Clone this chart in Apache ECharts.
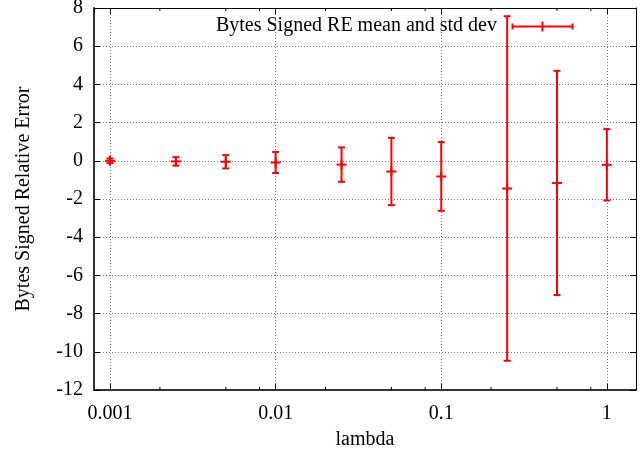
<!DOCTYPE html>
<html>
<head>
<meta charset="utf-8">
<script src="https://cdn.jsdelivr.net/npm/echarts@6/dist/echarts.min.js"></script>
<style>
html,body{margin:0;padding:0;background:#fff;}
#chart{width:642px;height:454px;}
</style>
</head>
<body>
<div id="chart"></div>
<script>
// ---- data ----
const lambdas = [0.001, 0.0025, 0.005, 0.01, 0.025, 0.05, 0.1, 0.25, 0.5, 1];
const means   = [0.0, -0.03, -0.05, -0.09, -0.2, -0.56, -0.82, -1.45, -1.16, -0.21];
const stds    = [0.12, 0.22, 0.35, 0.55, 0.9, 1.76, 1.8, 9.02, 5.87, 1.87];
const xTickLabels = ['0.001', '0.01', '0.1', '1'];
const minorXTicks = [0.002, 0.005, 0.008, 0.02, 0.05, 0.08, 0.2, 0.5, 0.8];
const seriesName = 'Bytes Signed RE mean and std dev';
const xTitle = 'lambda';
const yTitle = 'Bytes Signed Relative Error';

const FONT = 'Liberation Serif';
const RED = '#ff0000';

const errData = lambdas.map((x, i) => [x, means[i], stds[i]]);

const chart = echarts.init(document.getElementById('chart'), null, {renderer: 'canvas'});

function fmtX(v) {
  const s = String(Number(Number(v).toPrecision(6)));
  return xTickLabels.indexOf(s) >= 0 ? s : '';
}

const gridLine = {show: true, lineStyle: {color: '#777', width: 1, type: [1, 2]}};

chart.setOption({
  animation: false,
  backgroundColor: '#fff',
  grid: {left: 94, right: 6, top: 8, bottom: 64, containLabel: false, outerBoundsMode: 'none'},
  xAxis: [{
    type: 'log', logBase: 10, min: 0.0008, max: 1.5, position: 'bottom',
    name: xTitle, nameLocation: 'middle', nameGap: 40,
    nameTextStyle: {fontFamily: FONT, fontSize: 20, color: '#000'},
    axisLine: {show: true, onZero: false, lineStyle: {color: '#333', width: 2}},
    axisTick: {show: true, inside: true, length: 6, lineStyle: {color: '#000'}},
    axisLabel: {show: true, formatter: fmtX, fontFamily: FONT, fontSize: 20, color: '#000', margin: 14, showMinLabel: false, showMaxLabel: false},
    splitLine: gridLine,
    minorTick: {show: false}
  }, {
    type: 'log', logBase: 10, min: 0.0008, max: 1.5, position: 'top',
    axisLine: {show: true, onZero: false, lineStyle: {color: '#000', width: 1}},
    axisTick: {show: true, inside: true, length: 6, lineStyle: {color: '#000'}},
    axisLabel: {show: false},
    splitLine: {show: false}
  }],
  yAxis: [{
    type: 'value', min: -12, max: 8, interval: 2, position: 'left',
    name: yTitle, nameLocation: 'middle', nameGap: 60, nameRotate: 90,
    nameTextStyle: {fontFamily: FONT, fontSize: 20, color: '#000'},
    axisLine: {show: true, onZero: false, lineStyle: {color: '#333', width: 2}},
    axisTick: {show: true, inside: true, length: 6, lineStyle: {color: '#000'}},
    axisLabel: {fontFamily: FONT, fontSize: 20, color: '#000', margin: 11},
    splitLine: gridLine
  }, {
    type: 'value', min: -12, max: 8, interval: 2, position: 'right',
    axisLine: {show: true, onZero: false, lineStyle: {color: '#000', width: 1}},
    axisTick: {show: true, inside: true, length: 6, lineStyle: {color: '#000'}},
    axisLabel: {show: false},
    splitLine: {show: false}
  }],
  series: [{
    type: 'custom', name: 'minorTicks', silent: true, xAxisIndex: 0, yAxisIndex: 0,
    data: minorXTicks.map(v => [v]),
    encode: {x: 0},
    renderItem: function (params, api) {
      const v = api.value(0);
      const b = api.coord([v, -12]);
      const t = api.coord([v, 8]);
      const st = {stroke: '#000', lineWidth: 1};
      return {type: 'group', children: [
        {type: 'line', shape: {x1: b[0], y1: b[1], x2: b[0], y2: b[1] - 3}, style: st},
        {type: 'line', shape: {x1: t[0], y1: t[1], x2: t[0], y2: t[1] + 3}, style: st}
      ]};
    }
  }, {
    type: 'custom', name: seriesName, xAxisIndex: 0, yAxisIndex: 0,
    data: errData,
    encode: {x: 0, y: 1},
    renderItem: function (params, api) {
      const x = api.value(0), m = api.value(1), s = api.value(2);
      const top = api.coord([x, m + s]);
      const bot = api.coord([x, m - s]);
      const mid = api.coord([x, m]);
      const st = {stroke: RED, lineWidth: 2};
      const cw = 3.5, pw = 5;
      return {type: 'group', children: [
        {type: 'line', shape: {x1: top[0], y1: top[1], x2: bot[0], y2: bot[1]}, style: st},
        {type: 'line', shape: {x1: top[0] - cw, y1: top[1], x2: top[0] + cw, y2: top[1]}, style: st},
        {type: 'line', shape: {x1: bot[0] - cw, y1: bot[1], x2: bot[0] + cw, y2: bot[1]}, style: st},
        {type: 'line', shape: {x1: mid[0] - pw, y1: mid[1], x2: mid[0] + pw, y2: mid[1]}, style: st},
        {type: 'line', shape: {x1: mid[0], y1: mid[1] - pw, x2: mid[0], y2: mid[1] + pw}, style: st}
      ]};
    }
  }],
  graphic: [
    {type: 'text', right: 642 - 497, top: 16, style: {text: seriesName, font: '20px "' + FONT + '"', fill: '#000', textAlign: 'right'}},
    {type: 'group', left: 510, top: 19, children: [
      {type: 'line', shape: {x1: 1, y1: 5, x2: 61, y2: 5}, style: {stroke: RED, lineWidth: 2}},
      {type: 'line', shape: {x1: 1, y1: 2, x2: 1, y2: 8}, style: {stroke: RED, lineWidth: 2}},
      {type: 'line', shape: {x1: 61, y1: 2, x2: 61, y2: 8}, style: {stroke: RED, lineWidth: 2}},
      {type: 'line', shape: {x1: 31, y1: 0, x2: 31, y2: 10}, style: {stroke: RED, lineWidth: 2}}
    ]}
  ]
});
</script>
</body>
</html>
